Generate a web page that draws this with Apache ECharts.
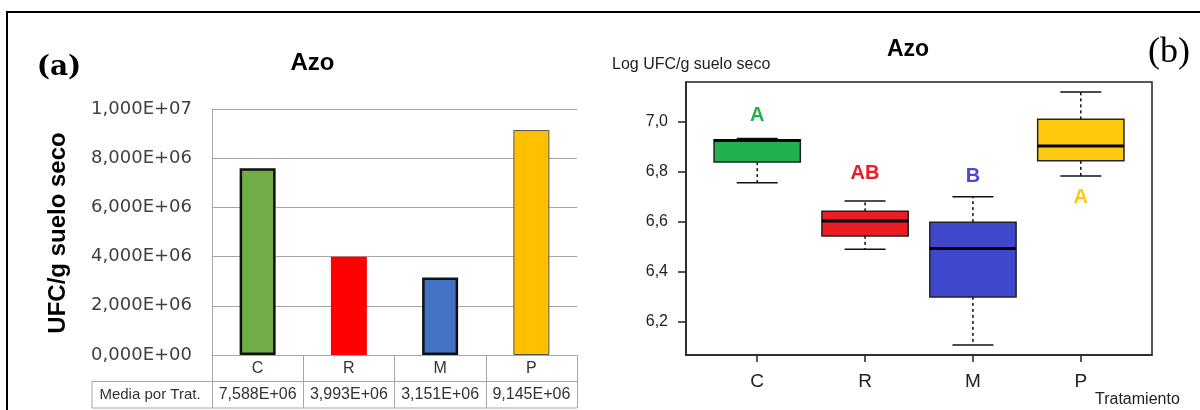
<!DOCTYPE html>
<html><head><meta charset="utf-8">
<script src="https://cdn.jsdelivr.net/npm/echarts@6/dist/echarts.min.js"></script>
<style>html,body{margin:0;padding:0;background:#fff}#c{width:1200px;height:410px}</style>
</head><body><div id="c"></div>
<script>
// ---------- data ----------
const treatments = ['C', 'R', 'M', 'P'];
const meanUFC = [7.588e6, 3.993e6, 3.151e6, 9.145e6];
const logMin = [6.756, 6.491, 6.108, 6.783];
const logQ1 = [6.839, 6.544, 6.300, 6.844];
const logMedian = [6.925, 6.604, 6.494, 6.903];
const logQ3 = [6.928, 6.642, 6.599, 7.010];
const logMax = [6.933, 6.683, 6.700, 7.119];
const sigLetters = ['A', 'AB', 'B', 'A'];
const sigLetterY = [7.024, 6.794, 6.780, 6.697];
const logTicks = [6.2, 6.4, 6.6, 6.8, 7.0];

// ---------- styles / layout ----------
const barColors = ['#70AD47', '#FF0000', '#4472C4', '#FFC000'];
const barBorders = [['#111', 2.5], ['#FF0000', 0], ['#111', 2.5], ['#555', 1]];
const boxColors = ['#22B14C', '#ED1C24', '#3F48CC', '#FFC90E'];
const letterColors = ['#22B14C', '#ED1C24', '#4A4AD6', '#FFC90E'];
const SANS = '"Liberation Sans", Arial, sans-serif';
const LG = { left: 212, top: 109, width: 365, height: 246 };
const RG = { left: 686, top: 82, width: 466, height: 273 };
const rowH = 26.5;
const tableColor = '#a6a6a6';

function sci(v) {
  const s = v.toExponential(3);
  const parts = s.split('e');
  const n = parseInt(parts[1], 10);
  return parts[0].replace('.', ',') + 'E' + (n < 0 ? '-' : '+') + String(Math.abs(n)).padStart(2, '0');
}

const lo = Math.min(...logMin), hi = Math.max(...logMax);
const yPad = 0.04 * (hi - lo);
const xPad = 0.04 * treatments.length;

const boxData = treatments.map((t, i) => [i + 1, logMin[i], logQ1[i], logMedian[i], logQ3[i], logMax[i]]);
const letterData = treatments.map((t, i) => [i + 1, sigLetterY[i]]);

const baseY = LG.top + LG.height;
const chart = echarts.init(document.getElementById('c'), null, { renderer: 'canvas' });

const option = {
  backgroundColor: '#fff',
  animation: false,
  grid: [
    { left: LG.left, top: LG.top, width: LG.width, height: LG.height, containLabel: false },
    { left: RG.left, top: RG.top, width: RG.width, height: RG.height, containLabel: false,
      show: true, borderColor: '#222', borderWidth: 1.5, backgroundColor: 'transparent' }
  ],
  xAxis: [
    { type: 'category', gridIndex: 0, data: treatments,
      axisLine: { show: true, lineStyle: { color: tableColor, width: 1 } },
      axisTick: { show: true, length: rowH * 2, interval: 0, lineStyle: { color: tableColor, width: 1 } },
      axisLabel: { show: true, interval: 0, margin: 13.5, verticalAlign: 'middle', fontFamily: SANS, fontSize: 16, color: '#333' },
      splitLine: { show: false } },
    { type: 'category', gridIndex: 0, data: treatments, position: 'bottom', offset: rowH,
      axisLine: { show: false }, axisTick: { show: false },
      axisLabel: { show: true, interval: 0, hideOverlap: false, margin: 13, verticalAlign: 'middle', fontFamily: SANS, fontSize: 16, color: '#333',
        formatter: (v, idx) => sci(meanUFC[idx]) },
      splitLine: { show: false } },
    { type: 'value', gridIndex: 1, min: 0.5 - xPad, max: treatments.length + 0.5 + xPad,
      axisLine: { show: true, lineStyle: { color: '#222', width: 1.5 } },
      axisTick: { show: true, length: 7, customValues: [1, 2, 3, 4], lineStyle: { color: '#222', width: 1.5 } },
      axisLabel: { show: true, customValues: [1, 2, 3, 4], margin: 17, fontFamily: SANS, fontSize: 19, color: '#222',
        formatter: v => treatments[Math.round(v) - 1] || '' },
      splitLine: { show: false } }
  ],
  yAxis: [
    { type: 'value', gridIndex: 0, min: 0, max: 1e7, interval: 2e6,
      axisLine: { show: true, lineStyle: { color: tableColor, width: 1 } },
      axisTick: { show: false },
      axisLabel: { margin: 20, fontFamily: '"DejaVu Sans", sans-serif', fontSize: 18, color: '#404040', formatter: v => sci(v) },
      splitLine: { show: true, lineStyle: { color: tableColor, width: 1 } } },
    { type: 'value', gridIndex: 1, min: lo - yPad, max: hi + yPad,
      axisLine: { show: true, lineStyle: { color: '#222', width: 1.5 } },
      axisTick: { show: true, length: 8, customValues: logTicks, lineStyle: { color: '#222', width: 1.5 } },
      axisLabel: { show: true, customValues: logTicks, margin: 18, fontFamily: SANS, fontSize: 16, color: '#222',
        formatter: v => v.toFixed(1).replace('.', ',') },
      splitLine: { show: false } }
  ],
  series: [
    { type: 'bar', xAxisIndex: 0, yAxisIndex: 0, barWidth: 36,
      data: meanUFC.map((v, i) => ({ value: v,
        itemStyle: { color: barColors[i], borderColor: barBorders[i][0], borderWidth: barBorders[i][1] } })) },
    { type: 'custom', xAxisIndex: 2, yAxisIndex: 1, data: boxData, clip: false,
      encode: { x: 0, y: [1, 2, 3, 4, 5] },
      renderItem: function (params, api) {
        const i = params.dataIndex;
        const x = api.value(0);
        const pMin = api.coord([x, api.value(1)]);
        const pQ1 = api.coord([x, api.value(2)]);
        const pMed = api.coord([x, api.value(3)]);
        const pQ3 = api.coord([x, api.value(4)]);
        const pMax = api.coord([x, api.value(5)]);
        const bw = api.size([0.8, 0])[0];
        const cw = api.size([0.38, 0])[0];
        const cx = pMed[0];
        const dash = { stroke: '#111', lineWidth: 1.5, lineDash: [3, 3], fill: null };
        const solid = { stroke: '#111', lineWidth: 1.5, fill: null };
        return { type: 'group', children: [
          { type: 'line', shape: { x1: cx, y1: pQ3[1], x2: cx, y2: pMax[1] }, style: dash },
          { type: 'line', shape: { x1: cx, y1: pQ1[1], x2: cx, y2: pMin[1] }, style: dash },
          { type: 'line', shape: { x1: cx - cw / 2, y1: pMax[1], x2: cx + cw / 2, y2: pMax[1] }, style: solid },
          { type: 'line', shape: { x1: cx - cw / 2, y1: pMin[1], x2: cx + cw / 2, y2: pMin[1] }, style: solid },
          { type: 'rect', shape: { x: cx - bw / 2, y: pQ3[1], width: bw, height: pQ1[1] - pQ3[1] },
            style: { fill: boxColors[i], stroke: '#222', lineWidth: 1.5 } },
          { type: 'line', shape: { x1: cx - bw / 2, y1: pMed[1], x2: cx + bw / 2, y2: pMed[1] },
            style: { stroke: '#000', lineWidth: 3 } }
        ] };
      } },
    { type: 'custom', xAxisIndex: 2, yAxisIndex: 1, data: letterData, clip: false,
      encode: { x: 0, y: 1 },
      renderItem: function (params, api) {
        const i = params.dataIndex;
        const p = api.coord([api.value(0), api.value(1)]);
        return { type: 'text', x: p[0], y: p[1],
          style: { text: sigLetters[i], fill: letterColors[i], font: 'bold 20px ' + SANS,
            align: 'center', verticalAlign: 'middle' } };
      } }
  ],
  graphic: [
    // outer frame (top and left)
    { type: 'polyline', shape: { points: [[7, 410], [7, 12], [1200, 12]] }, style: { stroke: '#000', lineWidth: 2, fill: null } },
    // table lines (left panel)
    { type: 'line', shape: { x1: 92, y1: baseY + rowH, x2: LG.left + LG.width, y2: baseY + rowH }, style: { stroke: tableColor, lineWidth: 1 } },
    { type: 'line', shape: { x1: 92, y1: baseY + 2 * rowH, x2: LG.left + LG.width, y2: baseY + 2 * rowH }, style: { stroke: tableColor, lineWidth: 1 } },
    { type: 'line', shape: { x1: 92, y1: baseY + rowH, x2: 92, y2: baseY + 2 * rowH }, style: { stroke: tableColor, lineWidth: 1 } },
    { type: 'text', x: 150, y: baseY + 1.5 * rowH, style: { text: 'Media por Trat.', font: '15px ' + SANS, fill: '#333', align: 'center', verticalAlign: 'middle' } },
    // left texts
    { type: 'text', x: 59, y: 68, style: { text: '(a)', font: 'bold 28px "DejaVu Serif", serif', fill: '#000', align: 'center', verticalAlign: 'middle' } },
    { type: 'text', x: 312.5, y: 63, style: { text: 'Azo', font: 'bold 24px ' + SANS, fill: '#000', align: 'center', verticalAlign: 'middle' } },
    { type: 'text', x: 58, y: 233, rotation: Math.PI / 2, style: { text: 'UFC/g suelo seco', font: 'bold 24px ' + SANS, fill: '#000', align: 'center', verticalAlign: 'middle' } },
    // right texts
    { type: 'text', x: 908, y: 50, style: { text: 'Azo', font: 'bold 23px ' + SANS, fill: '#000', align: 'center', verticalAlign: 'middle' } },
    { type: 'text', x: 1169, y: 53, style: { text: '(b)', font: '36px "Liberation Serif", "Times New Roman", serif', fill: '#000', align: 'center', verticalAlign: 'middle' } },
    { type: 'text', x: 612, y: 65, style: { text: 'Log UFC/g suelo seco', font: '16px ' + SANS, fill: '#222', align: 'left', verticalAlign: 'middle' } },
    { type: 'text', x: 1095, y: 400, style: { text: 'Tratamiento', font: '16px ' + SANS, fill: '#222', align: 'left', verticalAlign: 'middle' } }
  ]
};
chart.setOption(option);
</script>
</body></html>
